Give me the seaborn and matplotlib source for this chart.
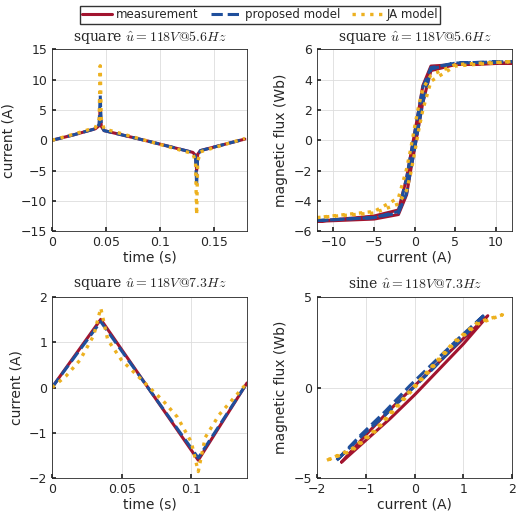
import numpy as np
import pandas as pd
import matplotlib
matplotlib.use("Agg")
import matplotlib.pyplot as plt
import seaborn as sns

sns.set_theme(style="ticks")
plt.rcParams['font.family'] = ['DejaVu Sans']
plt.rcParams['mathtext.fontset'] = 'cm'

# ---- data: top-left (time vs current)
tl_meas_t = [0, 0.02, 0.04, 0.0435, 0.0445, 0.0455, 0.048, 0.09, 0.13, 0.1325, 0.1335, 0.1345, 0.137, 0.178]
tl_meas_i = [0, 0.9, 1.9, 2.4, 5.0, 2.3, 1.6, -0.2, -2.0, -2.5, -5.0, -2.3, -1.7, 0.2]
tl_prop_t = [0, 0.02, 0.04, 0.0435, 0.0445, 0.0455, 0.048, 0.09, 0.13, 0.1325, 0.1335, 0.1345, 0.137, 0.178]
tl_prop_i = [0, 0.9, 1.9, 2.6, 7.5, 2.5, 1.6, -0.2, -2.0, -2.7, -7.5, -2.5, -1.7, 0.2]
tl_ja_t = [0, 0.02, 0.04, 0.0435, 0.0445, 0.0455, 0.048, 0.09, 0.13, 0.1325, 0.1335, 0.1345, 0.137, 0.178]
tl_ja_i = [0, 1.0, 2.1, 3.5, 12.3, 3.5, 1.9, -0.2, -2.2, -3.5, -12.3, -3.5, -1.9, 0.3]

# ---- top-right (current vs flux), closed loops
tr_meas_i = [-12, -5, -2, -1, -0.5, 0, 0.5, 1, 2, 5, 12, 5, 2, 1, 0.5, 0, -0.5, -1, -2, -5, -12]
tr_meas_f = [-5.35, -5.2, -4.9, -3.6, -2.0, -0.5, 1.0, 2.5, 4.6, 5.0, 5.1, 5.0, 4.9, 3.6, 2.0, 0.5, -1.0, -2.5, -4.6, -5.0, -5.35]
tr_prop_i = [-12, -5, -2, -1, -0.5, 0, 0.5, 1, 2, 5, 12, 5, 2, 1, 0.5, 0, -0.5, -1, -2, -5, -12]
tr_prop_f = [-5.3, -5.1, -4.8, -3.5, -2.0, -0.5, 1.0, 2.5, 4.7, 5.1, 5.2, 5.1, 4.8, 3.5, 2.0, 0.5, -1.0, -2.5, -4.7, -5.1, -5.3]
tr_ja_i = [-12, -5, -2, -1, -0.5, 0, 0.5, 1, 2, 5, 12, 5, 2, 1, 0.5, 0, -0.5, -1, -2, -5, -12]
tr_ja_f = [-5.1, -4.8, -4.2, -3.3, -2.2, -0.8, 0.7, 2.0, 3.9, 4.9, 5.2, 5.0, 4.3, 3.4, 2.3, 0.9, -0.6, -1.9, -3.8, -4.7, -5.1]

# ---- bottom-left (time vs current)
bl_meas_t = [0, 0.035, 0.105, 0.14]
bl_meas_i = [0, 1.5, -1.6, 0.1]
bl_prop_t = [0, 0.035, 0.105, 0.14]
bl_prop_i = [0, 1.45, -1.55, 0.1]
bl_ja_t = [0, 0.01, 0.02, 0.03, 0.035, 0.04, 0.05, 0.06, 0.07, 0.08, 0.09, 0.1, 0.105, 0.11, 0.12, 0.13, 0.14]
bl_ja_i = [0, 0.25, 0.6, 1.15, 1.75, 1.05, 0.6, 0.3, 0.0, -0.3, -0.65, -1.2, -1.85, -1.1, -0.6, -0.25, 0.1]

# ---- bottom-right (current vs flux)
br_meas_i = [-1.5, -1.0, -0.5, 0.0, 0.5, 1.0, 1.5, 1.0, 0.5, 0.0, -0.5, -1.0, -1.5]
br_meas_f = [-4.1, -2.9, -1.7, -0.4, 1.0, 2.4, 3.95, 2.7, 1.4, 0.1, -1.2, -2.6, -4.1]
br_prop_i = [-1.6, -1.1, -0.6, -0.1, 0.4, 0.9, 1.45, 0.9, 0.4, -0.1, -0.6, -1.1, -1.6]
br_prop_f = [-4.0, -2.7, -1.5, -0.2, 1.1, 2.5, 4.05, 2.7, 1.4, 0.1, -1.3, -2.6, -4.0]
br_ja_i = [-1.8, -1.3, -0.8, -0.4, 0.0, 0.4, 0.8, 1.3, 1.8, 1.3, 0.8, 0.4, 0.0, -0.4, -0.8, -1.3, -1.8]
br_ja_f = [-4.0, -3.4, -2.3, -1.1, 0.1, 1.3, 2.5, 3.6, 4.0, 3.5, 2.4, 1.2, 0.0, -1.2, -2.4, -3.5, -4.0]

RED, BLUE, YEL = "#A2142F", "#1f4f9c", "#EDB120"
styles = [("measurement", RED, "-", 2.2), ("proposed model", BLUE, "--", 2.2), ("JA model", YEL, ":", 2.4)]

fig, axes = plt.subplots(2, 2, figsize=(5.2, 5.2), dpi=100)

def draw(ax, sets):
    for (lab, c, ls, lw), (x, y) in zip(styles, sets):
        df = pd.DataFrame({"x": x, "y": y})
        sns.lineplot(data=df, x="x", y="y", sort=False, estimator=None, ax=ax,
                     color=c, linestyle=ls, linewidth=lw, label=lab, legend=False)
    ax.grid(True, color="#dddddd", linewidth=0.6)
    ax.tick_params(labelsize=9, length=3, direction="in")
    for s in ax.spines.values():
        s.set_linewidth(0.6)

tfont = dict(fontsize=10, family="DejaVu Serif")

ax = axes[0, 0]
draw(ax, [(tl_meas_t, tl_meas_i), (tl_prop_t, tl_prop_i), (tl_ja_t, tl_ja_i)])
ax.set(xlim=(0, 0.18), ylim=(-15, 15), xticks=[0, 0.05, 0.1, 0.15], yticks=range(-15, 16, 5))
ax.set_xticklabels(["0", "0.05", "0.1", "0.15"])
ax.set_xlabel("time (s)", fontsize=10, labelpad=1); ax.set_ylabel("current (A)", fontsize=10)
ax.set_title(r"square $\hat{u}=118V@5.6Hz$", **tfont)

ax = axes[0, 1]
draw(ax, [(tr_meas_i, tr_meas_f), (tr_prop_i, tr_prop_f), (tr_ja_i, tr_ja_f)])
ax.set(xlim=(-12, 12), ylim=(-6, 6), xticks=[-10, -5, 0, 5, 10], yticks=range(-6, 7, 2))
ax.set_xlabel("current (A)", fontsize=10, labelpad=1); ax.set_ylabel("magnetic flux (Wb)", fontsize=10)
ax.set_title(r"square $\hat{u}=118V@5.6Hz$", **tfont)

ax = axes[1, 0]
draw(ax, [(bl_meas_t, bl_meas_i), (bl_prop_t, bl_prop_i), (bl_ja_t, bl_ja_i)])
ax.set(xlim=(0, 0.14), ylim=(-2, 2), xticks=[0, 0.05, 0.1], yticks=[-2, -1, 0, 1, 2])
ax.set_xticklabels(["0", "0.05", "0.1"])
ax.set_xlabel("time (s)", fontsize=10, labelpad=1); ax.set_ylabel("current (A)", fontsize=10)
ax.set_title(r"square $\hat{u}=118V@7.3Hz$", **tfont)

ax = axes[1, 1]
draw(ax, [(br_meas_i, br_meas_f), (br_prop_i, br_prop_f), (br_ja_i, br_ja_f)])
ax.set(xlim=(-2, 2), ylim=(-5, 5), xticks=[-2, -1, 0, 1, 2], yticks=[-5, 0, 5])
ax.set_xlabel("current (A)", fontsize=10, labelpad=1); ax.set_ylabel("magnetic flux (Wb)", fontsize=10)
ax.set_title(r"sine $\hat{u}=118V@7.3Hz$", **tfont)

h, l = axes[0, 0].get_legend_handles_labels()
fig.legend(h, l, loc="upper center", ncol=3, fontsize=8.5, frameon=True, fancybox=False,
           edgecolor="black", bbox_to_anchor=(0.5, 1.0), handlelength=2.5, columnspacing=1.0,
           borderpad=0.2, handletextpad=0.4)

fig.subplots_adjust(left=0.1, right=0.985, top=0.905, bottom=0.08, wspace=0.36, hspace=0.36)
fig.savefig("out.png", dpi=100)
